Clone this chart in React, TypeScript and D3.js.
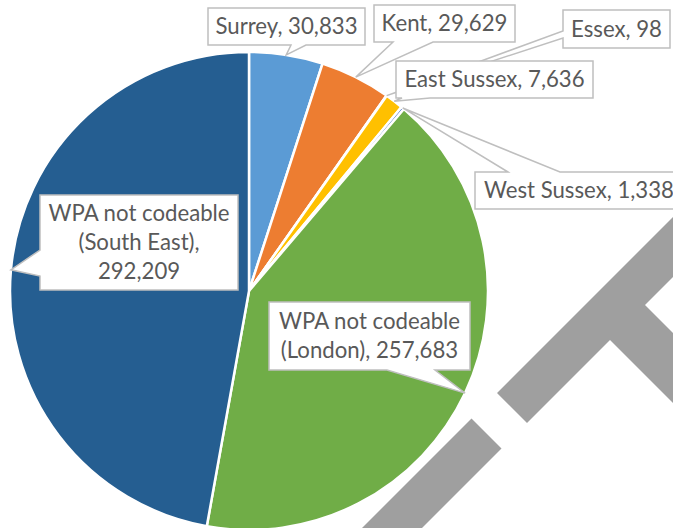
import React from "react";
import * as d3 from "d3";

const categories = [
  "Surrey",
  "Kent",
  "Essex",
  "East Sussex",
  "West Sussex",
  "WPA not codeable (London)",
  "WPA not codeable (South East)",
];
const values = [30833, 29629, 98, 7636, 1338, 257683, 292209];
const labelLines = [
  ["Surrey, 30,833"],
  ["Kent, 29,629"],
  ["Essex, 98"],
  ["East Sussex, 7,636"],
  ["West Sussex, 1,338"],
  ["WPA not codeable", "(London), 257,683"],
  ["WPA not codeable", "(South East),", "292,209"],
];
const colors = ["#5B9BD5", "#ED7D31", "#A5A5A5", "#FFC000", "#4472C4", "#70AD47", "#255E91"];

// callout layout: box x,y,w,h, edge for pointer, base range along that edge
type Callout = { x: number; y: number; w: number; h: number; side: "top" | "bottom" | "left"; b0: number; b1: number };
const calloutLayout: Callout[] = [
  { x: 208, y: 8, w: 157, h: 37, side: "bottom", b0: 291, b1: 306 },
  { x: 374, y: 5, w: 141, h: 37, side: "bottom", b0: 393, b1: 433 },
  { x: 563, y: 10, w: 107, h: 38, side: "left", b0: 31, b1: 38 },
  { x: 396, y: 61, w: 197, h: 37, side: "bottom", b0: 402, b1: 430 },
  { x: 475, y: 172, w: 212, h: 37, side: "top", b0: 508, b1: 560 },
  { x: 269, y: 302, w: 201, h: 68, side: "bottom", b0: 387, b1: 435 },
  { x: 40, y: 195, w: 198, h: 95, side: "left", b0: 250, b1: 276 },
];

const W = 673;
const H = 528;
const cx = 249;
const cy = 291;
const R = 239;

function calloutPath(c: Callout, tip: [number, number]) {
  const { x, y, w, h, side, b0, b1 } = c;
  const x2 = x + w;
  const y2 = y + h;
  const p: [number, number][] = [];
  p.push([x, y]);
  if (side === "top") {
    p.push([b0, y], tip, [b1, y]);
  }
  p.push([x2, y], [x2, y2]);
  if (side === "bottom") {
    p.push([b1, y2], tip, [b0, y2]);
  }
  p.push([x, y2]);
  if (side === "left") {
    p.push([x, b1], tip, [x, b0]);
  }
  return "M" + p.map((q) => q.join(",")).join("L") + "Z";
}

export default function App() {
  const pie = d3.pie<number>().sort(null).value((d) => d);
  const arcs = pie(values);
  const arcGen = d3.arc<d3.PieArcDatum<number>>().innerRadius(0).outerRadius(R);

  const tips = arcs.map((a) => {
    const m = (a.startAngle + a.endAngle) / 2;
    return [cx + R * Math.sin(m), cy - R * Math.cos(m)] as [number, number];
  });

  // decorative grey shapes (band edges: x+y=890 / 950; crossbar x-y=339 / 270)
  const upper: [number, number][] = [
    [497, 393],
    [760, 130],
    [760, 190],
    [645, 305],
    [760, 420],
    [760, 490],
    [610, 340],
    [527, 423],
  ];
  const lower: [number, number][] = [
    [471.5, 418.5],
    [501.5, 448.5],
    [349, 601],
    [289, 601],
  ];
  const poly = (pts: [number, number][]) => "M" + pts.map((q) => q.join(",")).join("L") + "Z";

  const fontFamily = "Lato, 'Open Sans', sans-serif";
  const fs = 22.2;
  const lh = 29;

  return (
    <svg
      width={W}
      height={H}
      style={{ position: "absolute", left: 0, top: 0, background: "#fff" }}
    >
      <rect width={W} height={H} fill="#fff" />
      <path d={poly(upper)} fill="#9f9f9f" />
      <path d={poly(lower)} fill="#9f9f9f" />
      <g transform={`translate(${cx},${cy})`}>
        {arcs.map((a, i) => (
          <path key={categories[i]} d={arcGen(a) || ""} fill={colors[i]} stroke="#fff" strokeWidth={2.5} strokeLinejoin="round" />
        ))}
      </g>
      {calloutLayout.map((c, i) => {
        const lines = labelLines[i];
        const tx = c.x + c.w / 2;
        const midY = c.y + c.h / 2;
        const startY = midY - ((lines.length - 1) * lh) / 2;
        return (
          <g key={"c" + i}>
            <path d={calloutPath(c, tips[i])} fill="#fff" stroke="#bfbfbf" strokeWidth={1.5} strokeLinejoin="miter" />
            <text
              x={i === 4 ? c.x + 9 : tx}
              textAnchor={i === 4 ? "start" : "middle"}
              fontFamily={fontFamily}
              fontSize={fs}
              fill="#595959"
            >
              {lines.map((l, j) => (
                <tspan key={j} x={i === 4 ? c.x + 9 : tx} y={startY + j * lh} dy="0.36em">
                  {l}
                </tspan>
              ))}
            </text>
          </g>
        );
      })}
    </svg>
  );
}
